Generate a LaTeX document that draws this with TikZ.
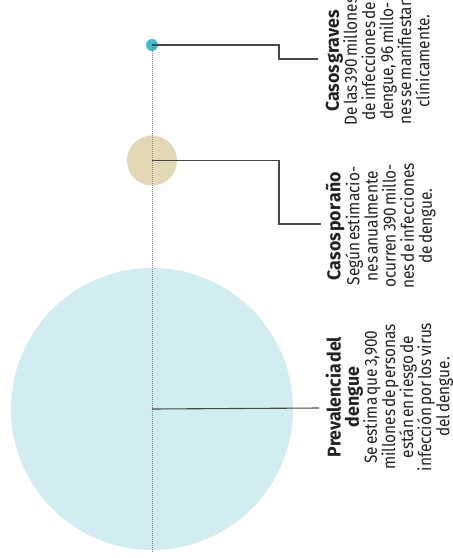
\documentclass[tikz,border=0pt]{standalone}
\usepackage{fontspec}
\setmainfont{Fira Sans}[FakeStretch=0.88, WordSpace=0.5]
\newfontfamily\titlefont{Fira Sans}[FakeStretch=0.96, WordSpace=0.3]
\definecolor{teal1}{HTML}{3BBFCB}
\definecolor{tan1}{HTML}{E3D8B6}
\definecolor{blue1}{HTML}{D1EDF1}
\definecolor{ink}{HTML}{222222}
\newcommand{\ttl}[1]{{\titlefont\bfseries\fontsize{18.5}{18.1}\selectfont #1}}
\begin{document}
\begin{tikzpicture}[x=1pt,y=-1pt]
\tikzset{
  blob/.style={circle, inner sep=0pt, draw=none},
  conn/.style={draw=black!72, line width=1.1pt},
  dotline/.style={draw=black!50, line width=0.8pt, dash pattern=on 0.8pt off 1.2pt},
  txt/.style={rotate=90, anchor=north, align=center, inner sep=0pt, text=ink,
    font=\fontsize{17.5}{18.1}\selectfont},
}
\useasboundingbox (0,0) rectangle (453,558);
\fill[white] (0,0) rectangle (453,558);
% circles
\node[blob, fill=blue1, minimum size=282pt] (big) at (152,409) {};
\node[blob, fill=tan1, minimum size=50pt] (mid) at (152,160.5) {};
\node[blob, fill=teal1, minimum size=12pt] (dot) at (152,45) {};
% dotted axis
\coordinate (bottom) at (152,552);
\draw[dotline] (dot.center) -- (bottom);
% texts
\node[txt] (t1) at (325.5,61) {\ttl{Casos graves}\\De las 390 millones\\de infecciones de\\dengue, 96 millo-\\nes se manifiestan\\clínicamente.};
\node[txt] (t2) at (325.5,226) {\ttl{Casos por año}\\Según estimacio-\\nes anualmente\\ocurren 390 millo-\\nes de infecciones\\de dengue.};
\node[txt] (t3) at (325.5,397) {\ttl{Prevalencia del}\\\ttl{dengue}\\Se estima que 3,900\\millones de personas\\están en riesgo de\\infección por los virus\\del dengue.};
% connector ends
\coordinate (e1) at (318,59);
\coordinate (e2) at (321,224);
\coordinate (e3) at (319,408);
\draw[conn] (dot.center) -- (279,45) |- (e1);
\draw[conn] (mid.center) -- (279,160.5) |- (e2);
\draw[conn] (big.center) -- (e3);
\end{tikzpicture}
\end{document}
